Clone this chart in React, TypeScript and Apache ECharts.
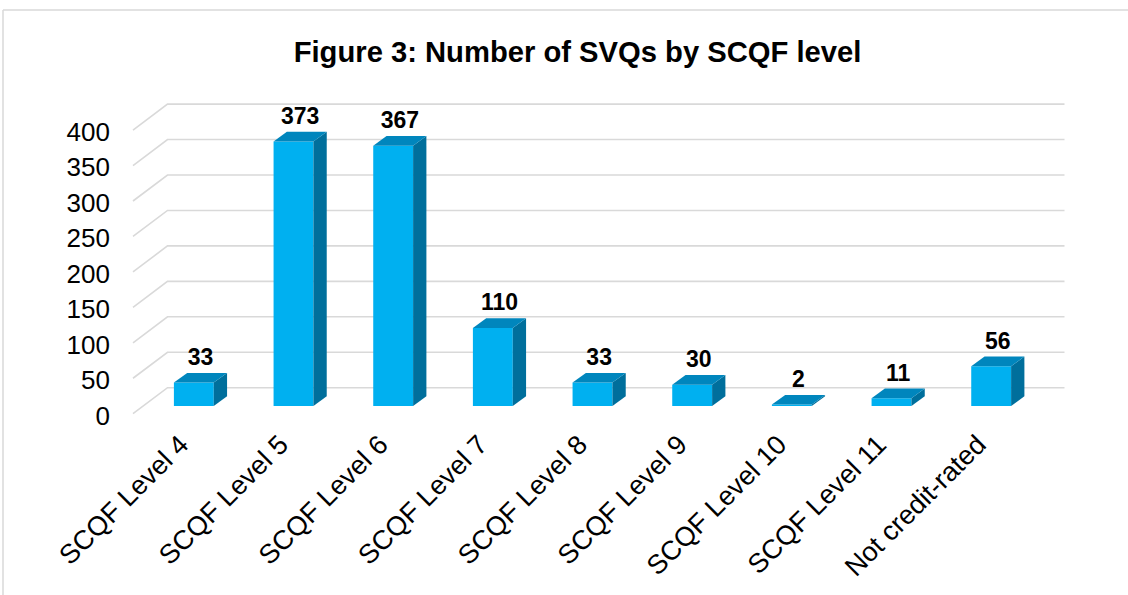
import React, { useEffect, useRef } from "react";
import * as echarts from "echarts";

const categories = [
  "SCQF Level 4",
  "SCQF Level 5",
  "SCQF Level 6",
  "SCQF Level 7",
  "SCQF Level 8",
  "SCQF Level 9",
  "SCQF Level 10",
  "SCQF Level 11",
  "Not credit-rated",
];
const values = [33, 373, 367, 110, 33, 30, 2, 11, 56];
const yTicks = [0, 50, 100, 150, 200, 250, 300, 350, 400];
const titleText = "Figure 3: Number of SVQs by SCQF level";

const FONT = "'Liberation Sans', Arial, Helvetica, sans-serif";

export default function App() {
  const ref = useRef<HTMLDivElement>(null);
  useEffect(() => {
    if (!ref.current) return;
    const chart = echarts.init(ref.current, null, { renderer: "svg" });
    const barDX = 13.3, barDY = -9.7;
    const backDX = 23.5, backDY = -18.3;
    const frontDX = -11, frontDY = 7.7;

    const option: any = {
      animation: false,
      backgroundColor: "#ffffff",
      title: {
        text: titleText,
        left: 572.5,
        textAlign: "center",
        top: 32,
        textStyle: { fontFamily: FONT, fontSize: 29.2, fontWeight: "bold", color: "#000" },
      },
      graphic: [
        { type: "line", shape: { x1: 3, y1: 10, x2: 1128, y2: 10 }, style: { stroke: "#d9d9d9", lineWidth: 1.5 } },
        { type: "line", shape: { x1: 3, y1: 10, x2: 3, y2: 595 }, style: { stroke: "#d9d9d9", lineWidth: 1.5 } },
      ],
      grid: [
        { left: 144, right: 87, top: 122.4, bottom: 189 },
        { left: 134, right: 97, top: 122.4, bottom: 189 },
      ],
      xAxis: [
        {
          type: "category",
          gridIndex: 0,
          data: categories,
          axisLine: { show: false },
          axisTick: { show: false },
          splitLine: { show: false },
          axisLabel: { show: false },
        },
        {
          type: "category",
          gridIndex: 1,
          data: categories,
          axisLine: { show: false },
          axisTick: { show: false },
          splitLine: { show: false },
          axisLabel: {
            rotate: 45,
            margin: 34,
            interval: 0,
            fontFamily: FONT,
            fontSize: 27,
            color: "#000",
          },
        },
      ],
      yAxis: [
        {
          type: "value",
          gridIndex: 0,
          min: 0,
          max: 400,
          interval: 50,
          axisLine: { show: false },
          axisTick: { show: false },
          splitLine: { show: false },
          axisLabel: {
            margin: 34,
            fontFamily: FONT,
            fontSize: 26,
            color: "#000",
            verticalAlign: "top",
            lineHeight: 19,
          },
        },
        {
          type: "value",
          gridIndex: 1,
          min: 0,
          max: 400,
          interval: 50,
          show: false,
        },
      ],
      series: [
        {
          type: "custom",
          name: "grid3d",
          z: 1,
          silent: true,
          xAxisIndex: 0,
          yAxisIndex: 0,
          data: yTicks.map((v) => [0, v]),
          renderItem: (params: any, api: any) => {
            const v = api.value(1);
            const y = api.coord([0, v])[1];
            const cs = params.coordSys;
            const left = cs.x;
            const right = cs.x + cs.width;
            return {
              type: "polyline",
              shape: {
                points: [
                  [left + frontDX, y + frontDY],
                  [left + backDX, y + backDY],
                  [right + backDX, y + backDY],
                ],
              },
              style: { stroke: "#d9d9d9", lineWidth: 1.6, fill: null },
            };
          },
        },
        {
          type: "custom",
          name: "SVQs",
          z: 2,
          xAxisIndex: 0,
          yAxisIndex: 0,
          data: values.map((v, i) => [i, v]),
          renderItem: (params: any, api: any) => {
            const i = api.value(0);
            const v = api.value(1);
            const top = api.coord([i, v]);
            const base = api.coord([i, 0]);
            const band = api.size([1, 0])[0];
            const w = band * 0.4;
            const x0 = top[0] - w / 2;
            const x1 = top[0] + w / 2;
            const yT = top[1];
            const yB = base[1];
            return {
              type: "group",
              children: [
                {
                  type: "polygon",
                  shape: { points: [[x0, yT], [x1, yT], [x1, yB], [x0, yB]] },
                  style: { fill: "#00b0f0" },
                },
                {
                  type: "polygon",
                  shape: { points: [[x1, yT], [x1 + barDX, yT + barDY], [x1 + barDX, yB + barDY], [x1, yB]] },
                  style: { fill: "#006f9c" },
                },
                {
                  type: "polygon",
                  shape: { points: [[x0, yT], [x1, yT], [x1 + barDX, yT + barDY], [x0 + barDX, yT + barDY]] },
                  style: { fill: "#0086bd" },
                },
                {
                  type: "text",
                  style: {
                    text: String(v),
                    x: top[0] + barDX / 2,
                    y: yT + barDY - 16,
                    align: "center",
                    verticalAlign: "middle",
                    fontFamily: FONT,
                    fontSize: 23,
                    fontWeight: "bold",
                    fill: "#000",
                  },
                },
              ],
            };
          },
        },
      ],
    };
    chart.setOption(option);
    return () => chart.dispose();
  }, []);
  return (
    <div
      ref={ref}
      style={{ position: "fixed", left: 0, top: 0, width: 1128, height: 595 }}
    />
  );
}
